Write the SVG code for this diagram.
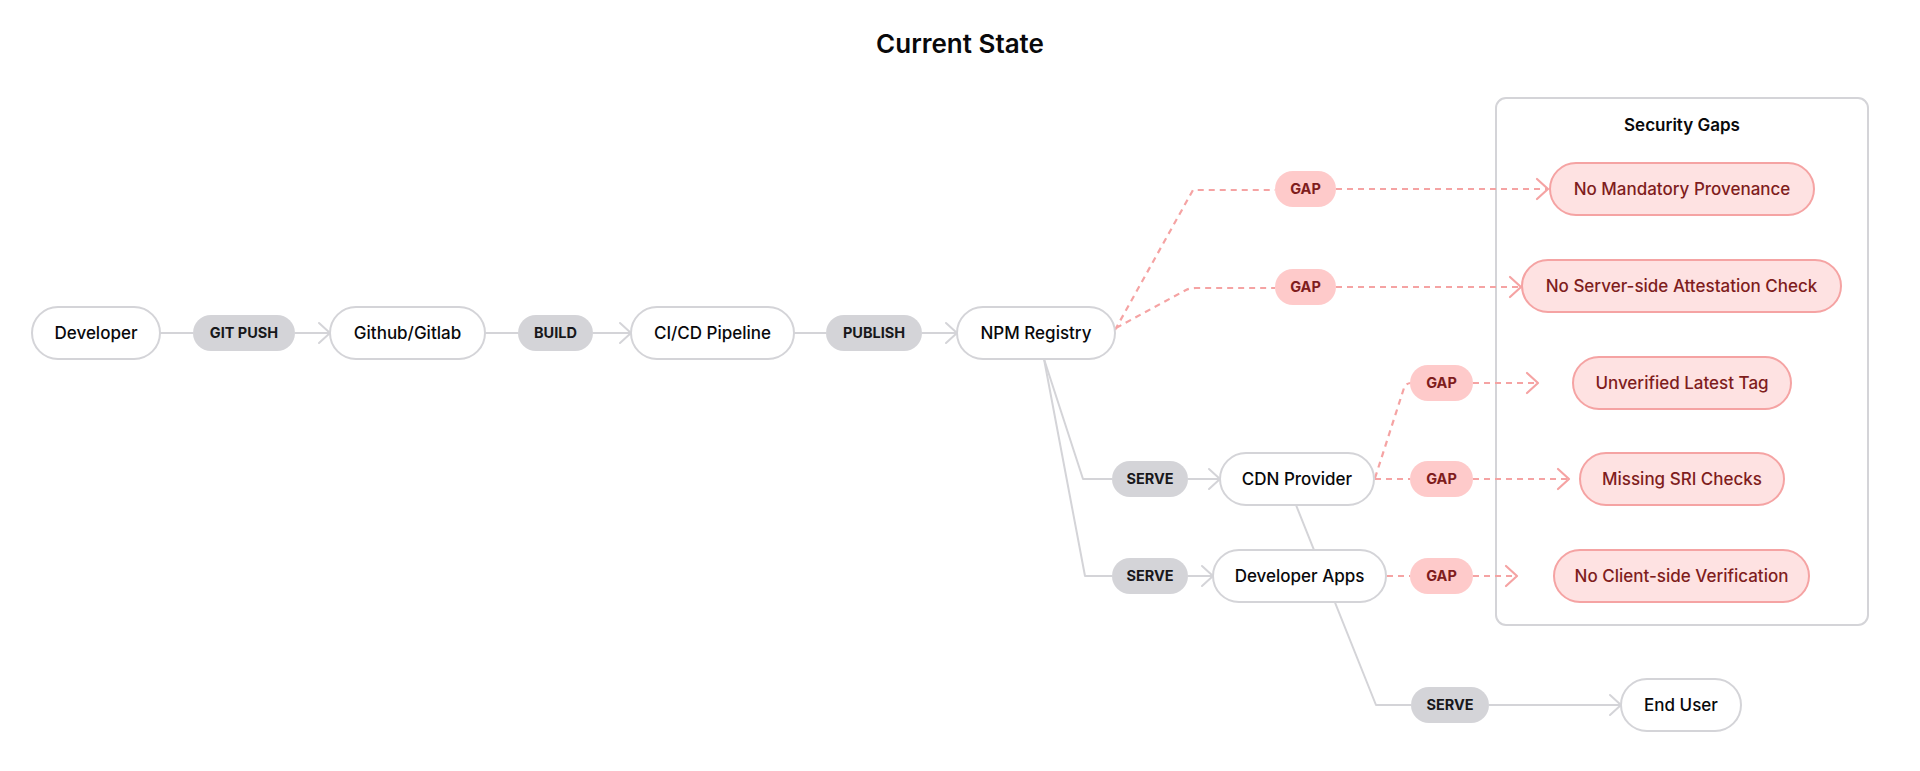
<svg xmlns="http://www.w3.org/2000/svg" width="1920" height="771" viewBox="0 0 1920 771">
<style>
text{font-family:Inter,"Noto Sans","Liberation Sans",sans-serif;text-anchor:middle}
.title{font-size:26px;font-weight:600;fill:#09090b}
.node rect{fill:#fff;stroke:#d4d4d8;stroke-width:2}
.node text{font-size:17px;font-weight:450;fill:#09090b}
.pill rect{fill:#d4d4d8}
.pill text{font-size:14.5px;font-weight:650;fill:#18181b}
.gpill rect{fill:#fecaca}
.gpill text{font-size:14.5px;font-weight:650;fill:#7f1d1d}
.gnode rect{fill:#fee2e2;stroke:#f5a3a3;stroke-width:2}
.gnode text{font-size:17px;font-weight:450;fill:#7f1d1d}
.group rect{fill:none;stroke:#d4d4d8;stroke-width:2}
.group text{font-size:17px;font-weight:600;fill:#09090b}
.edge{fill:none;stroke:#d4d4d8;stroke-width:2;stroke-linejoin:round}
.gedge{fill:none;stroke:#f5a3a3;stroke-width:2.2;stroke-dasharray:6 5}
</style>
<defs>
<marker id="arr" markerUnits="userSpaceOnUse" markerWidth="14" markerHeight="24" refX="12" refY="11" orient="auto" overflow="visible">
<path d="M1,1 L12,11 L1,21" fill="none" stroke="#d4d4d8" stroke-width="2" stroke-linecap="round" stroke-linejoin="round"/>
</marker>
<marker id="garr" markerUnits="userSpaceOnUse" markerWidth="14" markerHeight="24" refX="12" refY="11" orient="auto" overflow="visible">
<path d="M1,1 L12,11 L1,21" fill="none" stroke="#f5a3a3" stroke-width="2.2" stroke-dasharray="none" stroke-linecap="round" stroke-linejoin="round"/>
</marker>
</defs>
<rect width="1920" height="771" fill="#fff"/>
<text class="title" x="960" y="53">Current State</text>

<g id="security-gaps" class="group">
<rect x="1496" y="98" width="372" height="527" rx="10"/>
<text x="1682" y="131">Security Gaps</text>
</g>

<g id="connectors">
<path class="edge" d="M160 333H193"/>
<path class="edge" d="M295 333H330" marker-end="url(#arr)"/>
<path class="edge" d="M485 333H518"/>
<path class="edge" d="M593 333H631" marker-end="url(#arr)"/>
<path class="edge" d="M794 333H826"/>
<path class="edge" d="M922 333H957" marker-end="url(#arr)"/>
<path class="edge" d="M1044 359L1083 479H1112"/>
<path class="edge" d="M1044 359L1085 576H1112"/>
<path class="edge" d="M1188 479H1220" marker-end="url(#arr)"/>
<path class="edge" d="M1188 576H1213" marker-end="url(#arr)"/>
<path class="edge" d="M1296 505L1376 705H1411"/>
<path class="edge" d="M1489 705H1621" marker-end="url(#arr)"/>
<path class="gedge" d="M1115 330L1193 190H1275"/>
<path class="gedge" d="M1116 328L1186 290Q1190 288 1196 288H1275"/>
<path class="gedge" d="M1336 189H1548" marker-end="url(#garr)"/>
<path class="gedge" d="M1336 287H1521" marker-end="url(#garr)"/>
<path class="gedge" d="M1375 478L1404 388Q1406 383 1411 383"/>
<path class="gedge" d="M1375 479H1410"/>
<path class="gedge" d="M1473 383H1538" marker-end="url(#garr)"/>
<path class="gedge" d="M1473 479H1569" marker-end="url(#garr)"/>
<path class="gedge" d="M1387 576H1410"/>
<path class="gedge" d="M1473 576H1517" marker-end="url(#garr)"/>
</g>

<g id="developer" class="node"><rect x="32" y="307" width="128" height="52" rx="26"/><text x="96" y="339">Developer</text></g>
<g id="github" class="node"><rect x="330" y="307" width="155" height="52" rx="26"/><text x="407.5" y="339">Github/Gitlab</text></g>
<g id="cicd" class="node"><rect x="631" y="307" width="163" height="52" rx="26"/><text x="712.5" y="339">CI/CD Pipeline</text></g>
<g id="npm" class="node"><rect x="957" y="307" width="158" height="52" rx="26"/><text x="1036" y="339">NPM Registry</text></g>
<g id="cdn" class="node"><rect x="1220" y="453" width="154" height="52" rx="26"/><text x="1297" y="485">CDN Provider</text></g>
<g id="devapps" class="node"><rect x="1213" y="550" width="173" height="52" rx="26"/><text x="1299.5" y="582">Developer Apps</text></g>
<g id="enduser" class="node"><rect x="1621" y="679" width="120" height="52" rx="26"/><text x="1681" y="711">End User</text></g>

<g id="lbl-gitpush" class="pill"><rect x="193" y="315" width="102" height="36" rx="18"/><text x="244" y="338.2">GIT PUSH</text></g>
<g id="lbl-build" class="pill"><rect x="518" y="315" width="75" height="36" rx="18"/><text x="555.5" y="338.2">BUILD</text></g>
<g id="lbl-publish" class="pill"><rect x="826" y="315" width="96" height="36" rx="18"/><text x="874" y="338.2">PUBLISH</text></g>
<g id="lbl-serve1" class="pill"><rect x="1112" y="461" width="76" height="36" rx="18"/><text x="1150" y="484.2">SERVE</text></g>
<g id="lbl-serve2" class="pill"><rect x="1112" y="558" width="76" height="36" rx="18"/><text x="1150" y="581.2">SERVE</text></g>
<g id="lbl-serve3" class="pill"><rect x="1411" y="687" width="78" height="36" rx="18"/><text x="1450" y="710.2">SERVE</text></g>

<g id="lbl-gap1" class="gpill"><rect x="1275" y="171" width="61" height="36" rx="18"/><text x="1305.5" y="194.2">GAP</text></g>
<g id="lbl-gap2" class="gpill"><rect x="1275" y="269" width="61" height="36" rx="18"/><text x="1305.5" y="292.2">GAP</text></g>
<g id="lbl-gap3" class="gpill"><rect x="1410" y="365" width="63" height="36" rx="18"/><text x="1441.5" y="388.2">GAP</text></g>
<g id="lbl-gap4" class="gpill"><rect x="1410" y="461" width="63" height="36" rx="18"/><text x="1441.5" y="484.2">GAP</text></g>
<g id="lbl-gap5" class="gpill"><rect x="1410" y="558" width="63" height="36" rx="18"/><text x="1441.5" y="581.2">GAP</text></g>

<g id="gap-provenance" class="gnode"><rect x="1550" y="163" width="264" height="52" rx="26"/><text x="1682" y="195">No Mandatory Provenance</text></g>
<g id="gap-attestation" class="gnode"><rect x="1522" y="260" width="319" height="52" rx="26"/><text x="1681.5" y="292">No Server-side Attestation Check</text></g>
<g id="gap-latest" class="gnode"><rect x="1573" y="357" width="218" height="52" rx="26"/><text x="1682" y="389">Unverified Latest Tag</text></g>
<g id="gap-sri" class="gnode"><rect x="1580" y="453" width="204" height="52" rx="26"/><text x="1682" y="485">Missing SRI Checks</text></g>
<g id="gap-client" class="gnode"><rect x="1554" y="550" width="255" height="52" rx="26"/><text x="1681.5" y="582">No Client-side Verification</text></g>
</svg>
